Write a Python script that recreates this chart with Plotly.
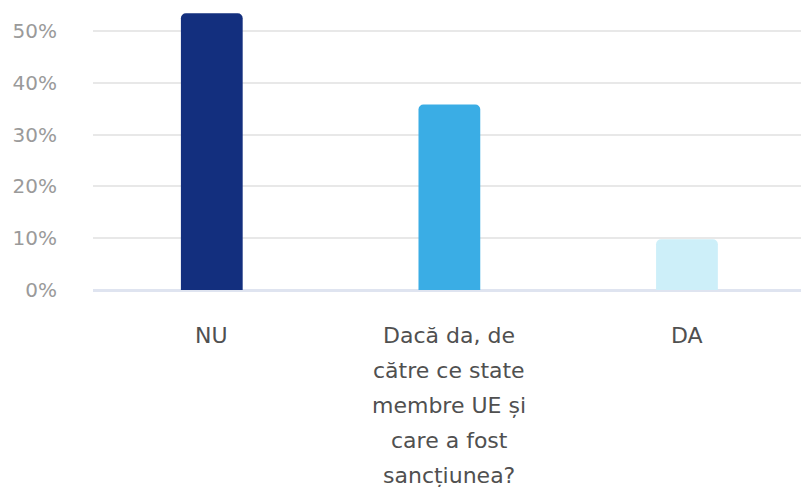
import plotly.graph_objects as go

categories = ["NU", "Dacă da, de<br>către ce state<br>membre UE și<br>care a fost<br>sancțiunea?", "DA"]
values = [53.4, 35.8, 9.8]
colors = ["#132f7e", "#3aade5", "#cdeff9"]
y_ticks = [0, 10, 20, 30, 40, 50]
y_tick_labels = ["0%", "10%", "20%", "30%", "40%", "50%"]

x_idx = list(range(len(categories)))
FONT = "DejaVu Sans, Liberation Sans, sans-serif"

fig = go.Figure()
fig.add_trace(go.Bar(
    x=x_idx, y=values, marker=dict(color=colors, line=dict(width=0)),
    width=0.26, hoverinfo="skip",
))

annotations = []
for i, lab in enumerate(categories):
    for j, line in enumerate(lab.split("<br>")):
        annotations.append(dict(
            x=i, y=0, xref="x", yref="y", text=line, showarrow=False,
            xanchor="center", yanchor="middle", yshift=-(45 + j * 35),
            font=dict(family=FONT, size=22, color="#505050"),
        ))

fig.update_layout(
    width=801, height=487,
    margin=dict(l=93, r=0, t=5, b=197),
    paper_bgcolor="white", plot_bgcolor="white",
    showlegend=False,
    barcornerradius=5,
    annotations=annotations,
    font=dict(family=FONT),
)
fig.update_xaxes(range=[-0.5, 2.48], showticklabels=False, showgrid=False, zeroline=False, showline=False, ticks="")
fig.update_yaxes(
    range=[0, 55], tickvals=y_ticks, ticktext=y_tick_labels,
    showgrid=True, gridcolor="#e8e8e8", gridwidth=1.5,
    zeroline=True, zerolinecolor="#dfe4f0", zerolinewidth=2.5,
    showline=False, ticks="", ticklabelstandoff=35,
    tickfont=dict(size=20, color="#9a9a9a", family=FONT),
)

fig.write_html("out.html", config={"displayModeBar": False},
               post_script="document.body.style.margin='0';document.body.style.overflow='hidden';")
